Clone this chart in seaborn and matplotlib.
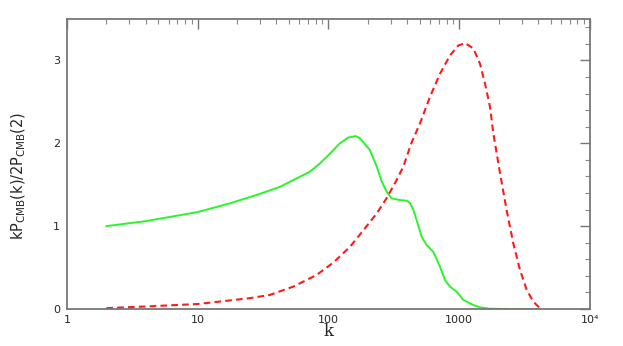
import matplotlib
matplotlib.use('Agg')
import matplotlib.pyplot as plt
import seaborn as sns
import numpy as np

# curves
k_tt = [2, 4, 10, 17.6, 30, 42.6, 60.5, 72, 86, 103, 122, 142, 162, 174, 207,
        234, 255, 279, 304, 352, 396, 420, 445, 473, 516, 563, 634, 713, 778,
        849, 955, 1074, 1282, 1442, 1700, 2500, 4200]
p_tt = [1.00, 1.06, 1.17, 1.275, 1.39, 1.475, 1.596, 1.656, 1.757, 1.878, 1.999,
        2.07, 2.087, 2.06, 1.92, 1.72, 1.54, 1.415, 1.335, 1.315, 1.307, 1.28,
        1.20, 1.07, 0.872, 0.772, 0.69, 0.51, 0.35, 0.27, 0.21, 0.11, 0.048,
        0.02, 0.003, 0.0, 0.0]

k_ee = [2, 4, 10, 25, 35.7, 53.8, 81, 109, 146, 185, 234, 279, 332, 374, 430,
        501, 597, 713, 850, 984, 1107, 1282, 1442, 1575, 1719, 1823, 2050, 2306,
        2594, 2917, 3281, 3685, 4148, 4300]
p_ee = [0.01, 0.03, 0.06, 0.13, 0.17, 0.27, 0.41, 0.56, 0.75, 0.95, 1.154, 1.34,
        1.556, 1.72, 2.0, 2.24, 2.56, 2.84, 3.06, 3.18, 3.21, 3.145, 2.96, 2.72,
        2.44, 2.12, 1.64, 1.19, 0.79, 0.47, 0.23, 0.088, 0.008, 0.0]

xticks = [1, 10, 100, 1000, 10000]
xtick_labels = ['1', '10', '100', '1000', '10⁴']
yticks = [0, 1, 2, 3]

sns.set_style('white')
fig = plt.figure(figsize=(6.23, 3.46), dpi=100)
ax = fig.add_axes([0.1075, 0.107, 0.8395, 0.838])

sns.lineplot(x=k_tt, y=p_tt, color='#2af52a', linewidth=1.4, estimator=None, sort=False, ax=ax)
sns.lineplot(x=k_ee, y=p_ee, color='#ff1a1a', linewidth=1.5, linestyle=(0, (3.2, 2)),
             estimator=None, sort=False, ax=ax)

ax.set_xscale('log')
ax.set_xlim(1, 1e4)
ax.set_ylim(0, 3.5)
ax.set_xticks(xticks)
ax.set_xticklabels(xtick_labels)
ax.set_yticks(yticks)
ax.set_yticks(np.arange(0, 3.51, 0.2), minor=True)

for s in ax.spines.values():
    s.set_color('#777777')
    s.set_linewidth(1.3)

ax.tick_params(which='major', direction='in', length=7, width=1, color='#777777',
               top=True, right=True, labelsize=8, pad=5)
ax.tick_params(axis='x', which='major', pad=4)
ax.tick_params(which='minor', direction='in', length=3.5, width=0.8, color='#888888',
               top=True, right=True)

ax.set_xlabel('k', fontsize=12, family='DejaVu Serif', va='top')
ax.xaxis.set_label_coords(0.5, -0.05)
ax.set_ylabel(r'$\mathrm{kP_{CMB}(k)/2P_{CMB}(2)}$', fontsize=10.5)
ax.yaxis.set_label_coords(-0.075, 0.46)

fig.savefig('out.png', dpi=100)
